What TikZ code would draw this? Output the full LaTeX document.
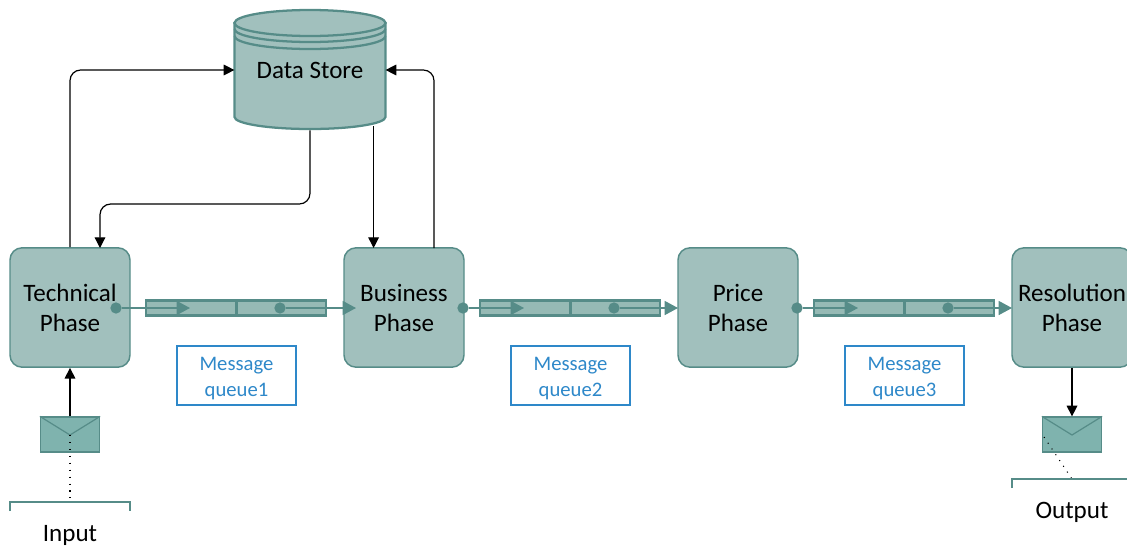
\documentclass[tikz,border=0pt]{standalone}
\usepackage{fontspec}
\setmainfont{Carlito}
\usetikzlibrary{arrows.meta}
\definecolor{phasefill}{HTML}{A1C0BD}
\definecolor{phaseline}{HTML}{568C88}
\definecolor{queuefill}{HTML}{96BAB5}
\definecolor{mailfill}{HTML}{7FB3AE}
\definecolor{noteblue}{HTML}{2E88C9}
\begin{document}
\begin{tikzpicture}[
    x=0.75pt, y=-0.75pt,
    phase/.style={rectangle, rounded corners=9pt, draw=phaseline, line width=1.1pt, fill=phasefill, minimum width=90pt, minimum height=89.5pt, align=center, font=\fontsize{18.8}{22.5}\selectfont},
    store/.style={rectangle, minimum width=113pt, minimum height=90pt, font=\fontsize{18.8}{22}\selectfont},
    shell/.style={draw=phaseline, line width=1.7pt, fill=phasefill},
    cell/.style={rectangle, draw=phaseline, line width=2pt, fill=queuefill, minimum width=67.5pt, minimum height=11.5pt, inner sep=0pt},
    divider/.style={draw=phaseline, line width=1.6pt},
    note/.style={rectangle, draw=noteblue, line width=1.1pt, text=noteblue, minimum width=89pt, minimum height=44pt, align=center, font=\fontsize{15.5}{19.5}\selectfont},
    mail/.style={rectangle, draw=phaseline, line width=1.2pt, fill=mailfill, minimum width=44pt, minimum height=26pt, inner sep=0pt},
    label/.style={font=\fontsize{18.8}{22}\selectfont},
    dot/.style={circle, fill=phaseline, minimum size=8.5pt, inner sep=0pt},
    flow/.style={draw=phaseline, line width=1.1pt, -{Triangle[length=10pt, width=10.5pt]}},
    link/.style={draw=black, line width=0.9pt, rounded corners=8pt, -{Triangle[length=8pt, width=8pt]}},
    bracket/.style={draw=phaseline, line width=0.9pt},
    trail/.style={draw=black, line width=0.8pt, dash pattern=on 0.8pt off 4.4pt}
  ]
    \useasboundingbox (0,0) rectangle (1127,546);

    % Data store
    \path[shell] (234.5,23) -- (234.5,117) arc[start angle=180, end angle=0, x radius=75.5, y radius=12] -- (385.5,23) -- cycle;
    \draw[shell, fill=none] (234.5,29) arc[start angle=180, end angle=0, x radius=75.5, y radius=13];
    \draw[shell, fill=none] (234.5,36) arc[start angle=180, end angle=0, x radius=75.5, y radius=13];
    \path[shell] (310,23) ellipse[x radius=75.5, y radius=13];
    \node[store] (datastore) at (310,70) {Data Store};

    % Phases
    \node[phase] (technical) at (70,307.5) {Technical\\Phase};
    \node[phase] (business) at (404,307.5) {Business\\Phase};
    \node[phase] (price) at (738,307.5) {Price\\Phase};
    \node[phase] (resolution) at (1072,307.5) {Resolution\\Phase};

    % Queues
    \foreach \x/\d/\t/\n in {0/116/356/1, 334/463/678/2, 668/797/1012/3} {
      \node[cell] (cella\n) at (191+\x,308) {};
      \node[cell] (cellb\n) at (281+\x,308) {};
      \draw[divider] (cella\n.north east) -- (cella\n.south east);
      \node[dot] (dota\n) at (\d,308) {};
      \node[dot] (dotb\n) at (280+\x,308) {};
      \coordinate (tipa\n) at (190+\x,308);
      \coordinate (tipb\n) at (\t,308);
      \draw[flow] (dota\n) -- (tipa\n);
      \draw[flow] (dotb\n) -- (tipb\n);
      \node[note] (note\n) at (236.5+\x,375.5) {\rule{0pt}{15pt}Message\\queue\n};
    }

    % Data store links
    \coordinate (techin) at (100,248);
    \coordinate (busin) at (373.6,248);
    \coordinate (busout) at (434,248);
    \coordinate (storeout) at (373.6,126);
    \draw[link] (technical.north) |- (datastore.west);
    \draw[link] (datastore.south) -- (310,204) -- (100,204) -- (techin);
    \draw[link] (storeout) -- (busin);
    \draw[link] (busout) |- (datastore.east);

    % Input
    \node[mail] (inmail) at (70,434.5) {};
    \coordinate (inflap) at (70,435);
    \coordinate (inleft) at (10,511);
    \coordinate (inright) at (130,511);
    \coordinate (inmid) at (70,502);
    \draw[phaseline, line width=0.9pt] (inmail.north west) -- (inflap) -- (inmail.north east);
    \draw[link] (inmail.north) -- (technical.south);
    \draw[trail] (inflap) -- (inmid);
    \draw[bracket] (inleft) |- (inmid) -| (inright);
    \node[label] (input) at (70,535) {Input};

    % Output
    \node[mail] (outmail) at (1072,434.5) {};
    \coordinate (outflap) at (1072,435);
    \coordinate (outstart) at (1044,437);
    \coordinate (outleft) at (1012,488);
    \coordinate (outright) at (1140,488);
    \coordinate (outmid) at (1072,479);
    \draw[phaseline, line width=0.9pt] (outmail.north west) -- (outflap) -- (outmail.north east);
    \draw[link] (resolution.south) -- (outmail.north);
    \draw[trail] (outstart) -- (outmid);
    \draw[bracket] (outleft) |- (outmid) -| (outright);
    \node[label] (output) at (1072,512) {Output};
\end{tikzpicture}
\end{document}
